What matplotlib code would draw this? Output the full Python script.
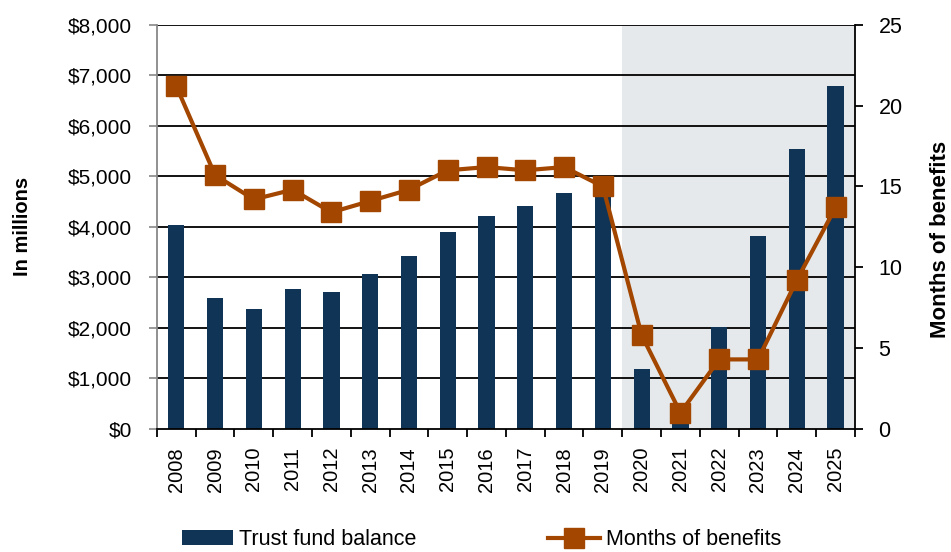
import numpy as np
import matplotlib.pyplot as plt

# Data
years = ['2008', '2009', '2010', '2011', '2012', '2013', '2014', '2015', '2016',
         '2017', '2018', '2019', '2020', '2021', '2022', '2023', '2024', '2025']
balance = [4040, 2590, 2380, 2770, 2710, 3060, 3430, 3900, 4210,
           4420, 4670, 4800, 1190, 150, 2010, 3820, 5540, 6780]
months = [21.2, 15.7, 14.2, 14.8, 13.4, 14.1, 14.8, 16.0, 16.2,
          16.0, 16.2, 15.0, 5.8, 1.0, 4.3, 4.3, 9.2, 13.7]

bar_col = '#0F3455'
line_col = '#A24600'
shade_col = '#E6E9EC'

plt.rcParams['font.family'] = ['Liberation Sans', 'DejaVu Sans']

fig = plt.figure(figsize=(9.51, 5.52), dpi=100)
ax = fig.add_axes([0.165, 0.223, 0.734, 0.732])
ax2 = ax.twinx()

x = np.arange(len(years))
ax.axvspan(11.5, 17.5, color=shade_col, zorder=0, lw=0)
for v in range(1000, 8001, 1000):
    ax.axhline(v, color='black', lw=1.3, zorder=1)
bars = ax.bar(x, balance, width=0.42, color=bar_col, zorder=2, label='Trust fund balance')

line, = ax2.plot(x, months, color=line_col, lw=3, marker='s', markersize=14,
                 label='Months of benefits')

ax.set_xlim(-0.5, 17.5)
ax.set_ylim(0, 8000)
ax2.set_ylim(0, 25)

ax.set_yticks(range(0, 8001, 1000))
ax.set_yticklabels(['${:,}'.format(v) for v in range(0, 8001, 1000)], fontsize=15)
ax2.set_yticks(range(0, 26, 5))
ax2.set_yticklabels([str(v) for v in range(0, 26, 5)], fontsize=15.5)

ax.set_xticks(x)
ax.set_xticklabels(years, rotation=90, fontsize=14.5)
ax.tick_params(axis='x', which='major', length=0, pad=13)
ax.set_xticks(np.arange(-0.5, 18, 1), minor=True)
ax.tick_params(axis='x', which='minor', length=6, width=1.3, color='black', direction='out')
ax.tick_params(axis='y', length=6, width=1.2, color='#888888', direction='out', pad=12)
ax2.tick_params(axis='y', length=6, width=1.3, color='black', direction='out', pad=11)

ax.spines['top'].set_visible(False)
ax2.spines['top'].set_visible(False)
ax.spines['left'].set_color('#888888')
ax.spines['left'].set_linewidth(1.3)
ax2.spines['left'].set_visible(False)
ax2.spines['right'].set_color('black')
ax2.spines['right'].set_linewidth(1.3)
ax.spines['right'].set_visible(False)
ax.spines['bottom'].set_color('black')
ax.spines['bottom'].set_linewidth(1.3)
ax2.spines['bottom'].set_visible(False)

ax.set_ylabel('In millions', fontsize=14.5, fontweight='bold')
ax.yaxis.set_label_coords(-0.179, 0.502)
ax2.set_ylabel('Months of benefits', fontsize=16, fontweight='bold')
ax2.yaxis.set_label_coords(1.107, 0.47)

fig.legend([bars, line], ['Trust fund balance', 'Months of benefits'],
           loc='center', bbox_to_anchor=(0.506, 0.022), ncol=2, frameon=False,
           handlelength=2.4, handletextpad=0.28, columnspacing=6.1,
           fontsize=15.5)

fig.savefig('out.png', dpi=100)
